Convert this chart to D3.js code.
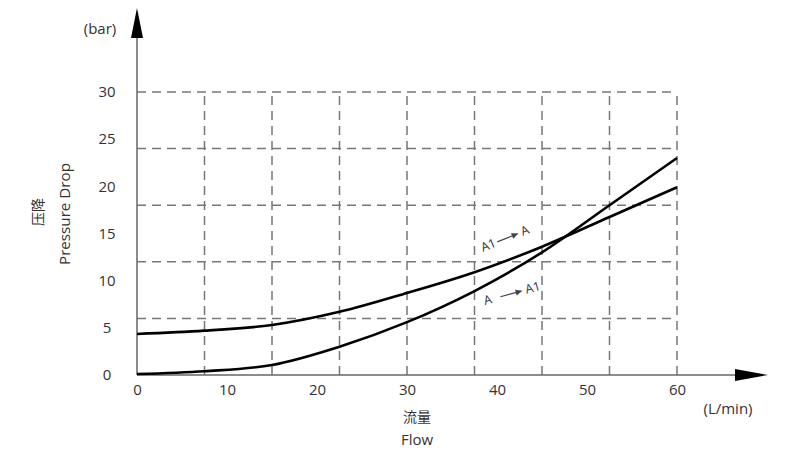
<!DOCTYPE html>
<html><head><meta charset="utf-8">
<script src="https://cdn.jsdelivr.net/npm/d3@7"></script>
<style>body{margin:0;background:#fff}svg{display:block}text{font-family:"Open Sans","Noto Sans",sans-serif;fill:#333}</style>
</head><body><svg id="c" width="800" height="451"></svg>
<script>
const xTicks = [0,10,20,30,40,50,60];
const yTicks = [0,5,10,15,20,25,30];
const gridX = [7.5,15,22.5,30,37.5,45,52.5,60];
const gridY = [6,12,18,24,30];
const flow = [0,7.5,15,22.5,30,37.5,45,52.5,60];
const seriesA1toA = [4.35,4.7,5.3,6.7,8.7,10.9,13.6,16.75,19.9];
const seriesAtoA1 = [0.1,0.4,1.06,3.0,5.6,8.9,13.0,18.0,23.0];

const svg = d3.select("#c");
const x = d3.scaleLinear().domain([0,60]).range([137,677]);
const y = d3.scaleLinear().domain([0,30]).range([375,92]);

// grid
svg.append("g").selectAll("line").data(gridY).join("line")
  .attr("x1",x(0)).attr("x2",x(60)).attr("y1",d=>y(d)).attr("y2",d=>y(d))
  .attr("stroke","#777").attr("stroke-width",1.5).attr("stroke-dasharray","9,6");
svg.append("g").selectAll("line").data(gridX).join("line")
  .attr("x1",d=>x(d)).attr("x2",d=>x(d)).attr("y1",y(0)).attr("y2",y(30))
  .attr("stroke","#777").attr("stroke-width",1.5).attr("stroke-dasharray","9,6");

// axes lines with arrows
svg.append("line").attr("x1",x(0)).attr("x2",740).attr("y1",y(0)).attr("y2",y(0)).attr("stroke","#666").attr("stroke-width",1.5);
svg.append("line").attr("x1",x(0)).attr("x2",x(0)).attr("y1",y(0)).attr("y2",35).attr("stroke","#666").attr("stroke-width",1.5);
svg.append("path").attr("d",`M${x(0)},8 L${x(0)-6},38 L${x(0)+6},38 Z`).attr("fill","#000");
svg.append("path").attr("d",`M768,${y(0)} L735,${y(0)-6} L735,${y(0)+6} Z`).attr("fill","#000");

// tick labels
const ax = svg.append("g").attr("transform",`translate(0,${y(0)+6})`)
  .call(d3.axisBottom(x).tickValues(xTicks).tickSize(0).tickFormat(d3.format("d")));
ax.select(".domain").remove();
ax.selectAll("text").attr("font-size",15).attr("fill","#333").style("font-family","Open Sans");
const ay = svg.append("g").attr("transform",`translate(107,0)`)
  .call(d3.axisLeft(y).tickValues(yTicks).tickSize(0).tickPadding(0).tickFormat(d3.format("d")));
ay.select(".domain").remove();
ay.selectAll("text").attr("font-size",15).attr("fill","#333").attr("text-anchor","middle").style("font-family","Open Sans");

// curves
const line = d3.line().x((d,i)=>x(flow[i])).y(d=>y(d)).curve(d3.curveMonotoneX);
[seriesA1toA, seriesAtoA1].forEach(s=>{
  svg.append("path").attr("d",line(s)).attr("fill","none").attr("stroke","#000").attr("stroke-width",2.6);
});

// annotations
function ann(tx,ty,rot,a,b){
  const g = svg.append("g").attr("transform",`translate(${tx},${ty}) rotate(${rot})`);
  g.append("text").attr("x",0).attr("y",0).attr("font-size",12.5).attr("fill","#555").text(a);
  g.append("line").attr("x1",17).attr("x2",36).attr("y1",-4).attr("y2",-4).attr("stroke","#444").attr("stroke-width",1.2);
  g.append("path").attr("d","M40,-4 L33,-7 L33,-1 Z").attr("fill","#444");
  g.append("text").attr("x",43).attr("y",0).attr("font-size",12.5).attr("fill","#555").text(b);
}
ann(483,252,-22,"A1","A");
ann(485,305,-15,"A","A1");

// titles
svg.append("text").attr("x",100).attr("y",34).attr("text-anchor","middle").attr("font-size",15).text("(bar)");
svg.append("text").attr("x",728).attr("y",414).attr("text-anchor","middle").attr("font-size",15).text("(L/min)");
svg.append("text").attr("x",417).attr("y",422).attr("text-anchor","middle").attr("font-size",14).style("font-family","Noto Sans CJK SC").text("流量");
svg.append("text").attr("x",417).attr("y",445).attr("text-anchor","middle").attr("font-size",15).text("Flow");
svg.append("text").attr("transform","translate(43,212) rotate(-90)").attr("text-anchor","middle").attr("font-size",14).style("font-family","Noto Sans CJK SC").text("压降");
svg.append("text").attr("transform","translate(70,214) rotate(-90)").attr("text-anchor","middle").attr("font-size",15).attr("textLength",102).attr("lengthAdjust","spacingAndGlyphs").text("Pressure Drop");
</script></body></html>
